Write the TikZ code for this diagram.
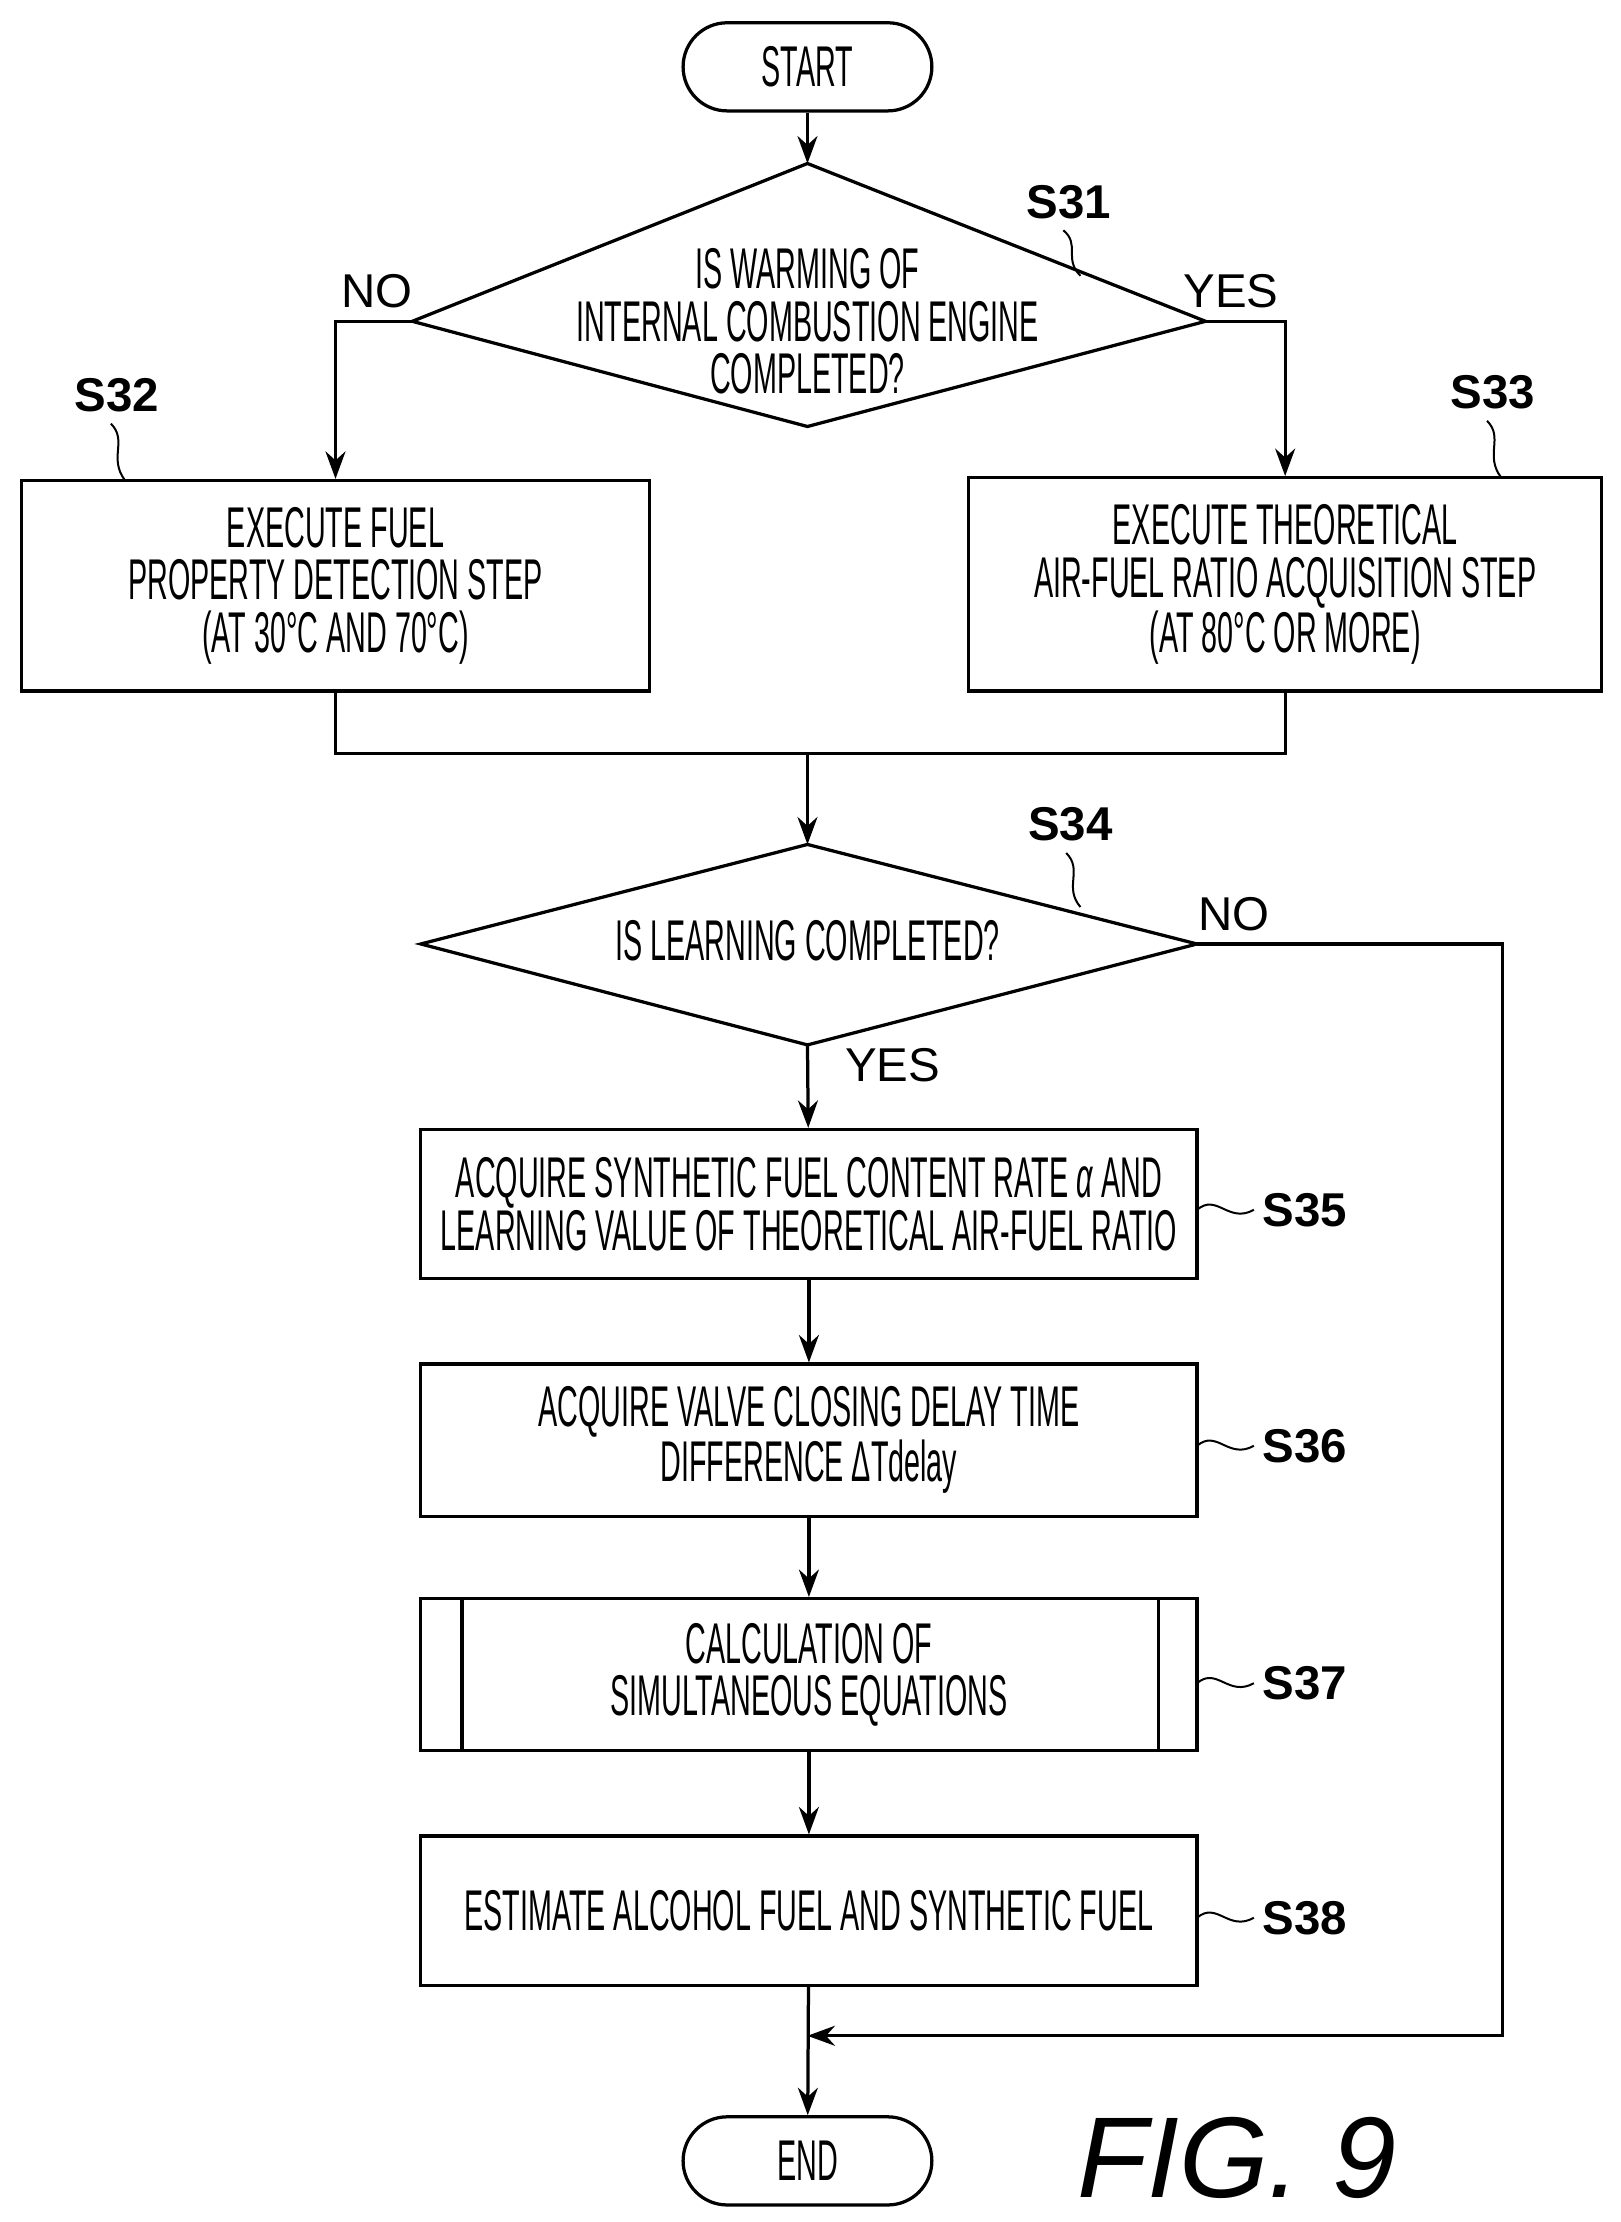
\documentclass[tikz,border=0pt]{standalone}
\usepackage{fontspec}
\setmainfont{Liberation Sans}
\newfontfamily\cond[FakeStretch=0.5]{Liberation Sans}
\usetikzlibrary{shapes.geometric, positioning, arrows.meta}
\tikzset{
>={Stealth[length=11pt,width=8pt]}, % filled arrow heads
every node/.style={font=\cond\fontsize{23}{21}\selectfont},
box/.style={draw, line width=1.3pt, align=center, inner sep=0pt},
term/.style={box, rounded corners=31\pgfunitx, minimum width=175\pgfunitx, minimum height=62\pgfunitx},
flow/.style={line width=1.3pt},
tag/.style={font=\bfseries\fontsize{19}{19}\selectfont},
}
\newcommand{\pgfunitx}{*0.02cm}
\begin{document}
\begin{tikzpicture}[x=0.02cm, y=-0.02cm]
  \useasboundingbox (0,0) rectangle (1140,1563);
  % Terminals
  \node[term] (start) at (568,47) {START};
  \node[term] (end) at (568,1520) {END};

  % Decisions
  \draw[flow] (290,226) -- (568,115) -- (848,226) -- (568,300) -- cycle;
  \coordinate (d1l) at (290,226); \coordinate (d1r) at (848,226);
  \coordinate (d1t) at (568,115); \coordinate (d1b) at (568,300);
  \node[align=center] (q31) at (568,226) {IS WARMING OF\\INTERNAL COMBUSTION ENGINE\\COMPLETED?};
  \draw[flow] (296,664) -- (568,594) -- (842,664) -- (568,735) -- cycle;
  \coordinate (d2l) at (296,664); \coordinate (d2r) at (842,664);
  \coordinate (d2t) at (568,594); \coordinate (d2b) at (568,735);
  \node (q34) at (568,662) {IS LEARNING COMPLETED?};

  % Processes
  \node[box, minimum width=442\pgfunitx, minimum height=148\pgfunitx] (s32) at (236,412)
    {EXECUTE FUEL\\PROPERTY DETECTION STEP\\(AT 30\textdegree C AND 70\textdegree C)};
  \node[box, minimum width=445\pgfunitx, minimum height=150\pgfunitx] (s33) at (904,411)
    {EXECUTE THEORETICAL\\AIR-FUEL RATIO ACQUISITION STEP\\(AT 80\textdegree C OR MORE)};
  \node[box, minimum width=546\pgfunitx, minimum height=105\pgfunitx] (s35) at (569,847)
    {ACQUIRE SYNTHETIC FUEL CONTENT RATE \textit{α} AND\\LEARNING VALUE OF THEORETICAL AIR-FUEL RATIO};
  \node[box, minimum width=546\pgfunitx, minimum height=107\pgfunitx] (s36) at (569,1013)
    {ACQUIRE VALVE CLOSING DELAY TIME\\DIFFERENCE ΔTdelay};
  \node[box, minimum width=546\pgfunitx, minimum height=107\pgfunitx] (s37) at (569,1178)
    {CALCULATION OF\\SIMULTANEOUS EQUATIONS};
  \draw[flow] (325,1125) -- (325,1232) (815,1125) -- (815,1232);
  \node[box, minimum width=546\pgfunitx, minimum height=105\pgfunitx] (s38) at (569,1344)
    {ESTIMATE ALCOHOL FUEL AND SYNTHETIC FUEL};

  % Connectors
  \coordinate (m) at (568,530);
  \coordinate (r34) at (1057,664);
  \coordinate (r34b) at (1057,1432);
  \coordinate (j) at (568,1432);
  \draw[flow, ->] (start) -- (d1t);
  \draw[flow, ->] (d1l) -| (s32);
  \draw[flow, ->] (d1r) -| (s33);
  \draw[flow] (s32) |- (m) -| (s33);
  \draw[flow, ->] (m) -- (d2t);
  \draw[flow, ->] (d2b) -- (s35);
  \draw[flow, ->] (s35) -- (s36);
  \draw[flow, ->] (s36) -- (s37);
  \draw[flow, ->] (s37) -- (s38);
  \draw[flow, ->] (s38) -- (end);
  \draw[flow, ->] (d2r) -- (r34) -- (r34b) -- (j);

  % Branch labels
  \node[font=\fontsize{19}{19}\selectfont] (no31) at (265,205) {NO};
  \node[font=\fontsize{19}{19}\selectfont] (yes31) at (866,205) {YES};
  \node[font=\fontsize{19}{19}\selectfont] (no34) at (868,643) {NO};
  \node[font=\fontsize{19}{19}\selectfont] (yes34) at (628,749) {YES};

  % Step tags
  \node[tag] (t31) at (752,142) {S31};
  \node[tag] (t32) at (82,278) {S32};
  \node[tag] (t33) at (1050,276) {S33};
  \node[tag] (t34) at (753,580) {S34};
  \node[tag] (t35) at (918,851) {S35};
  \node[tag] (t36) at (918,1017) {S36};
  \node[tag] (t37) at (918,1184) {S37};
  \node[tag] (t38) at (918,1349) {S38};
  \draw[line width=0.8pt] (748,162) .. controls (760,172) and (748,182) .. (760,194);
  \draw[line width=0.8pt] (78,298) .. controls (90,310) and (76,322) .. (88,338);
  \draw[line width=0.8pt] (1046,296) .. controls (1058,308) and (1044,320) .. (1056,336);
  \draw[line width=0.8pt] (750,600) .. controls (762,612) and (748,624) .. (760,638);
  \foreach \yy in {851,1017,1184,1349}
    \draw[line width=0.8pt] (842,\yy) .. controls (856,\yy-12) and (864,\yy+10) .. (882,\yy);

  % Figure caption
  \node[font=\itshape\fontsize{46}{46}\selectfont] (fig) at (870,1518) {FIG. 9};
\end{tikzpicture}
\end{document}
